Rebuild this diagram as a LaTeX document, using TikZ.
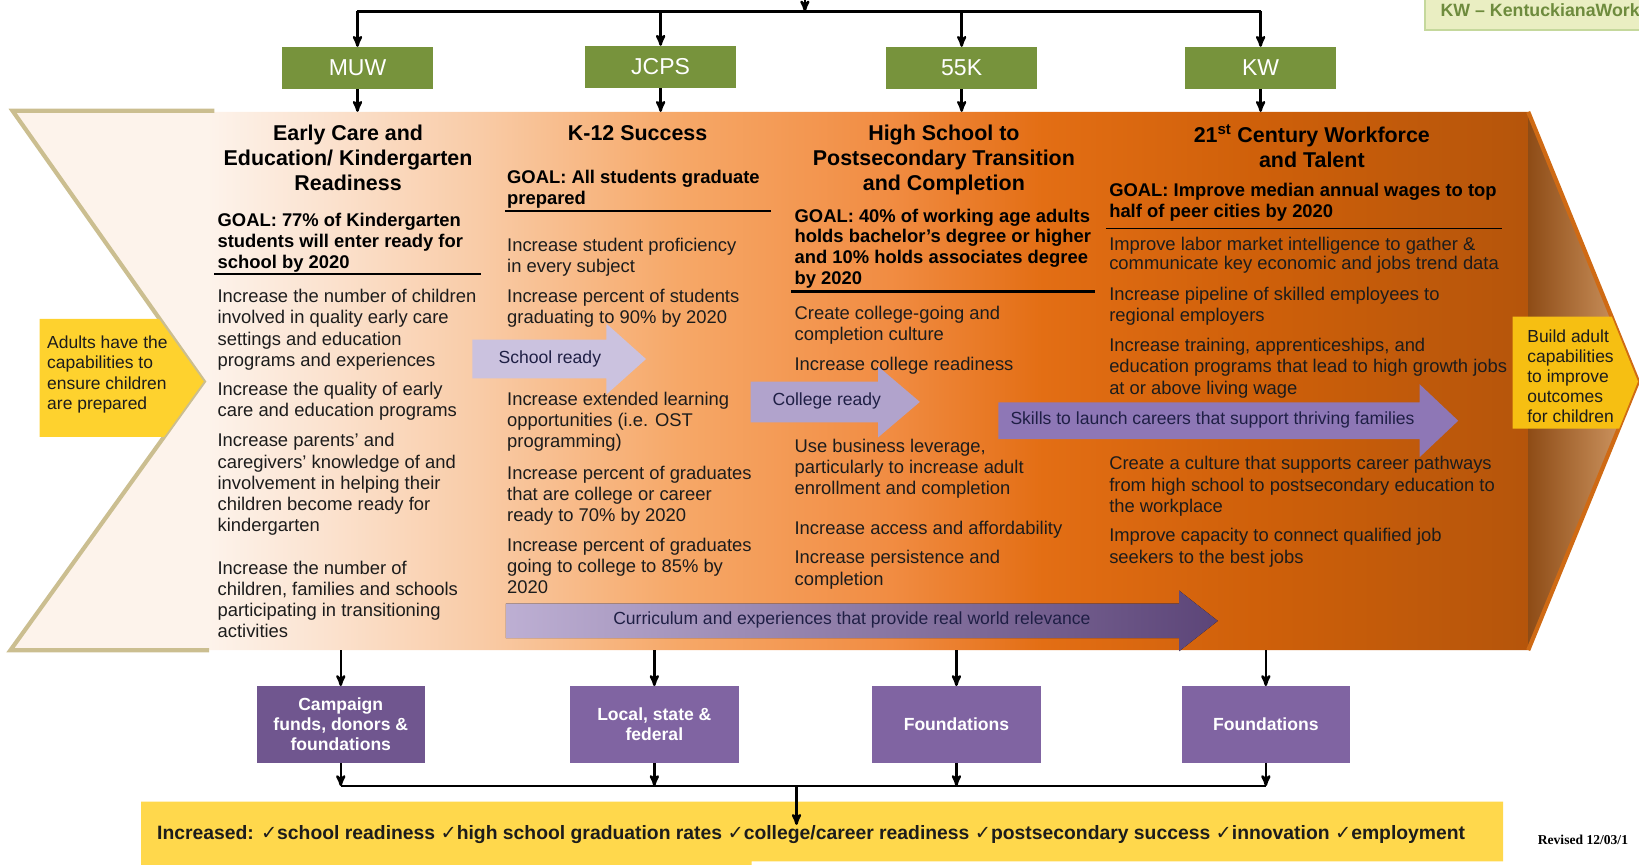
\documentclass[tikz,border=0pt]{standalone}
\usepackage{fontspec}
\setmainfont{Liberation Sans}
\newfontfamily\tickfont{DejaVu Sans}
\newfontfamily\revfont{Liberation Serif}
\usetikzlibrary{arrows,calc}

\definecolor{leaf}{HTML}{77933C}
\definecolor{plum}{HTML}{8064A2}
\definecolor{plumdark}{HTML}{70568F}
\definecolor{goldA}{HTML}{FED22E}
\definecolor{goldB}{HTML}{F6BF12}
\definecolor{goldC}{HTML}{FFD84C}
\definecolor{khaki}{HTML}{CBBE90}
\definecolor{ink}{HTML}{1C1C1C}
\definecolor{navy}{HTML}{1F1F45}
\definecolor{lavA}{HTML}{CBC2DF}
\definecolor{lavB}{HTML}{B1A3CC}
\definecolor{lavC}{HTML}{8E77B6}
\definecolor{lavD}{HTML}{BDAFD3}
\definecolor{lavE}{HTML}{5C4578}
\definecolor{tipdark}{HTML}{8E4C16}
\definecolor{tiplight}{HTML}{D7A06C}
\definecolor{tipedge}{HTML}{CF6A14}
\definecolor{legfill}{HTML}{EAEEC2}
\definecolor{legedge}{HTML}{C5D89C}
\definecolor{legtext}{HTML}{6E8B3D}
\definecolor{sh0}{HTML}{FDF3EB}
\definecolor{sh1}{HTML}{FBE4D2}
\definecolor{sh2}{HTML}{F9CBA6}
\definecolor{sh3}{HTML}{F6A868}
\definecolor{sh4}{HTML}{F18C42}
\definecolor{sh5}{HTML}{E36E14}
\definecolor{sh6}{HTML}{CF600A}
\definecolor{sh7}{HTML}{B5550B}

% band colour across the four columns
\pgfdeclarehorizontalshading{band}{100bp}{color(0bp)=(sh0); color(31.5bp)=(sh0);
  color(35bp)=(sh1); color(40.5bp)=(sh2); color(47bp)=(sh3); color(54bp)=(sh4);
  color(59bp)=(sh5); color(66bp)=(sh6); color(75bp)=(sh7); color(100bp)=(sh7)}

% style, tail x, neck x, tip x, centre y, half shaft, half head
\newcommand{\flowarrow}[7]{\fill[#1] (#2,#5-#6) -- (#3,#5-#6) -- (#3,#5-#7) -- (#4,#5)
  -- (#3,#5+#7) -- (#3,#5+#6) -- (#2,#5+#6) -- cycle;}
\newcommand{\tick}{{\tickfont ✓}}

\begin{document}
\begin{tikzpicture}[x=1pt, y=-1pt, >=stealth',
    link/.style={->, line width=2.4pt},
    wire/.style={line width=2.4pt},
    rule/.style={line width=2.5pt},
    agency/.style={fill=leaf, text=white, minimum width=144pt, minimum height=40pt, inner sep=0pt, font=\fontsize{22}{26}\selectfont},
    fund/.style={fill=plum, text=white, minimum width=161pt, minimum height=73pt, inner sep=0pt, align=center, font=\bfseries\fontsize{16.8}{19}\selectfont},
    head/.style={anchor=north, inner sep=0pt, align=center, font=\bfseries\fontsize{20.5}{24}\selectfont},
    goal/.style={anchor=north west, inner sep=0pt, align=left, font=\bfseries\fontsize{17.6}{20}\selectfont},
    item/.style={anchor=north west, inner sep=0pt, align=left, text=ink, font=\fontsize{17.6}{20.3}\selectfont},
    note/.style={anchor=north west, inner sep=0pt, align=left, text=ink, font=\fontsize{16.7}{19.5}\selectfont},
    flow/.style={inner sep=0pt, text=navy, font=\fontsize{16.8}{18}\selectfont}]
\useasboundingbox (0,0) rectangle (1568,827);
\clip (0,0) rectangle (1568,827);

% key, top right
\filldraw[fill=legfill, draw=legedge, line width=2pt] (1363,-10) rectangle (1600,28.7);
\node[anchor=west, inner sep=0pt, text=legtext, font=\bfseries\fontsize{17}{19}\selectfont] (kwkey) at (1378,10) {KW – KentuckianaWork};

% the big band
\shade[shading=band] (12,107) -- (1462,107) -- (1462,622) -- (10,622) -- (195,365) -- cycle;
\shadedraw[left color=tipdark, right color=tiplight, draw=tipedge, line width=4pt] (1462,107) -- (1567,365) -- (1462,622);
\draw[khaki, line width=4pt, line join=miter] (205,106) -- (12,106) -- (195,365) -- (10,622) -- (200,622);

% yellow pointers
\fill[goldA] (38,305) -- (152,305) -- (195,365) -- (157,418) -- (38,418) -- cycle;
\node[note] (adults) at (45,321) {Adults have the\\capabilities to\\ensure children\\are prepared};
\fill[goldB] (1447,303) -- (1542,303) -- (1567,365) -- (1549,410) -- (1447,410) -- cycle;
\node[note, font=\fontsize{16.7}{19.3}\selectfont] (build) at (1461,315) {Build adult\\capabilities\\to improve\\outcomes\\for children};

% agencies
\node[agency] (muw)   at (342,65) {MUW};
\node[agency] (jcps)  at (632,64) {JCPS};
\node[agency] (fivek) at (920,65) {55K};
\node[agency] (kw)    at (1206,65) {KW};

\coordinate (feed) at (770,-6);
\coordinate (hub)  at (770,11);
\coordinate (rim)  at (0,107);
\draw[link] (feed) -- (hub);
\draw[wire] (muw.north |- hub) -- (kw.north |- hub);
\foreach \n in {muw,jcps,fivek,kw}{
  \draw[link] (\n.north |- hub) -- (\n.north);
  \draw[link] (\n.south) -- (\n.south |- rim);
}

% column 1
\node[head] (head1) at (333,119.5) {Early Care and\\Education/ Kindergarten\\Readiness};
\node[goal] (goal1) at (208,203.5) {GOAL: 77\% of Kindergarten\\students will enter ready for\\school by 2020};
\draw[rule] (205,262) -- (460,262);
\node[item] (a1) at (208,276.5) {Increase the number of children\\involved in quality early care\\settings and education\\programs and experiences};
\node[item] (a2) at (208,365.5) {Increase the quality of early\\care and education programs};
\node[item] (a3) at (208,414.5) {Increase parents’ and\\caregivers’ knowledge of and\\involvement in helping their\\children become ready for\\kindergarten};
\node[item] (a4) at (208,536.5) {Increase the number of\\children, families and schools\\participating in transitioning\\activities};

% column 2
\node[head] (head2) at (610,119.5) {K-12 Success};
\node[goal] (goal2) at (485,162.5) {GOAL: All students graduate\\prepared};
\draw[rule] (483,202) -- (738,202);
\node[item] (b1) at (485,227.5) {Increase student proficiency\\in every subject};
\node[item] (b2) at (485,276.5) {Increase percent of students\\graduating to 90\% by 2020};
\node[item] (b3) at (485,374.5) {Increase extended learning\\opportunities (i.e. OST\\programming)};
\node[item] (b4) at (485,445.5) {Increase percent of graduates\\that are college or career\\ready to 70\% by 2020};
\node[item] (b5) at (485,514.5) {Increase percent of graduates\\going to college to 85\% by\\2020};

% column 3
\node[head] (head3) at (903,119.5) {High School to\\Postsecondary Transition\\and Completion};
\node[goal] (goal3) at (760,199.5) {GOAL: 40\% of working age adults\\holds bachelor’s degree or higher\\and 10\% holds associates degree\\by 2020};
\draw[rule] (757,279) -- (1048,279);
\node[item] (c1) at (760,292.5) {Create college-going and\\completion culture};
\node[item] (c2) at (760,341.5) {Increase college readiness};
\node[item] (c3) at (760,419.5) {Use business leverage,\\particularly to increase adult\\enrollment and completion};
\node[item] (c4) at (760,498.5) {Increase access and affordability};
\node[item] (c5) at (760,526.5) {Increase persistence and\\completion};

% column 4
\node[head] (head4) at (1255,119.5) {21\textsuperscript{st} Century Workforce\\and Talent};
\node[goal] (goal4) at (1061,175.5) {GOAL: Improve median annual wages to top\\half of peer cities by 2020};
\draw[line width=1pt] (1058,219) -- (1437,219);
\node[item, font=\fontsize{17.6}{18.5}\selectfont] (d1) at (1061,226.5) {Improve labor market intelligence to gather \&\\communicate key economic and jobs trend data};
\node[item] (d2) at (1061,274.5) {Increase pipeline of skilled employees to\\regional employers};
\node[item] (d3) at (1061,323.5) {Increase training, apprenticeships, and\\education programs that lead to high growth jobs\\at or above living wage};
\node[item] (d4) at (1061,436.5) {Create a culture that supports career pathways\\from high school to postsecondary education to\\the workplace};
\node[item] (d5) at (1061,505.5) {Improve capacity to connect qualified job\\seekers to the best jobs};

% flow arrows
\flowarrow{lavA}{452}{580}{618}{343.5}{18.5}{34}
\node[flow] (schoolready) at (526,343.5) {School ready};
\flowarrow{lavB}{718}{840}{880}{384.5}{19.5}{34}
\node[flow] (collegeready) at (791,384) {College ready};
\flowarrow{lavC}{955}{1358}{1395}{402.5}{17.5}{35}
\node[flow] (skills) at (1160,402) {Skills to launch careers that support thriving families};
\flowarrow{left color=lavD, right color=lavE}{484}{1128}{1165}{594}{16.5}{29}
\node[flow] (relevance) at (815,593.5) {Curriculum and experiences that provide real world relevance};

% funding
\node[fund, fill=plumdark] (fund1) at (326,693) {Campaign\\funds, donors \&\\foundations};
\node[fund] (fund2) at (626,693) {Local, state \&\\federal};
\node[fund] (fund3) at (915,693) {Foundations};
\node[fund] (fund4) at (1211,693) {Foundations};

% outcomes
\fill[goldC] (135,767) -- (1438,767) -- (1438,824) -- (719,824) -- (719,832) -- (135,832) -- cycle;
\node[inner sep=0pt, text=ink, font=\bfseries\fontsize{18.5}{20}\selectfont] (outcome) at (776,798) {Increased: \tick school readiness \tick high school graduation rates \tick college/career readiness \tick postsecondary success \tick innovation \tick employment};

\coordinate (base) at (0,622);
\coordinate (sink) at (762,752);
\foreach \n in {fund1,fund2,fund3,fund4}{
  \draw[link] (\n.north |- base) -- (\n.north);
  \draw[link] (\n.south) -- (\n.south |- sink);
}
\draw[wire] (fund1.south |- sink) -- (fund4.south |- sink);
\draw[link] (sink) -- (sink |- outcome.north);

\node[anchor=west, inner sep=0pt, font=\revfont\bfseries\fontsize{13}{15}\selectfont] (revised) at (1471,803) {Revised 12/03/1};
\end{tikzpicture}
\end{document}
